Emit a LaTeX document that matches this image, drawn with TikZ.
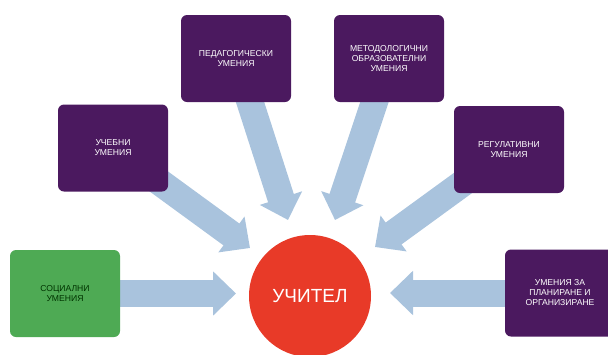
\documentclass[tikz,border=0pt]{standalone}
\usepackage{fontspec}
\setmainfont{Liberation Sans}
\usetikzlibrary{
    arrows.meta,
    backgrounds
}

\definecolor{skillpurple}{RGB}{75,25,95}
\definecolor{skillgreen}{RGB}{78,170,84}
\definecolor{teacherred}{RGB}{232,58,40}
\definecolor{arrowblue}{RGB}{169,195,221}

\begin{document}
\begin{tikzpicture}[x=1pt, y=-1pt,
    skill/.style={rectangle, rounded corners=6pt, fill=skillpurple, text=white,
        minimum width=110pt, minimum height=87pt, inner sep=2pt, align=center,
        font=\fontsize{8.6}{10}\selectfont},
    social/.style={skill, fill=skillgreen, text=black!80!green},
    bigarrow/.style={arrowblue, line width=27pt,
        -{Triangle[length=23pt, width=43pt]}}
]
    \useasboundingbox (0,0) rectangle (608,354);

    \node[circle, fill=teacherred, text=white, minimum size=122pt,
          font=\fontsize{19}{22}\selectfont] (teacher) at (310,296) {УЧИТЕЛ};

    \node[skill] (ped) at (236,58.5) {ПЕДАГОГИЧЕСКИ\\УМЕНИЯ};
    \node[skill] (met) at (389,58.5) {МЕТОДОЛОГИЧНИ\\ОБРАЗОВАТЕЛНИ\\УМЕНИЯ};
    \node[skill] (uch) at (113,148) {УЧЕБНИ\\УМЕНИЯ};
    \node[skill] (reg) at (509,149.5) {РЕГУЛАТИВНИ\\УМЕНИЯ};
    \node[social] (soc) at (65,293.5) {СОЦИАЛНИ\\УМЕНИЯ};
    \node[skill] (plan) at (560,293) {УМЕНИЯ ЗА\\ПЛАНИРАНЕ И\\ОРГАНИЗИРАНЕ};

    \coordinate (soctip) at (236,293.5);
    \coordinate (uchtip) at (250,248);
    \coordinate (pedtip) at (288,220);
    \coordinate (mettip) at (335,220);
    \coordinate (regtip) at (375,247);
    \coordinate (plantip) at (390,293);

    \begin{pgfonlayer}{background}
        \draw[bigarrow] (soc.center) -- (soctip);
        \draw[bigarrow] (uch.center) -- (uchtip);
        \draw[bigarrow] (ped.center) -- (pedtip);
        \draw[bigarrow] (met.center) -- (mettip);
        \draw[bigarrow] (reg.center) -- (regtip);
        \draw[bigarrow] (plan.center) -- (plantip);
    \end{pgfonlayer}
\end{tikzpicture}
\end{document}
